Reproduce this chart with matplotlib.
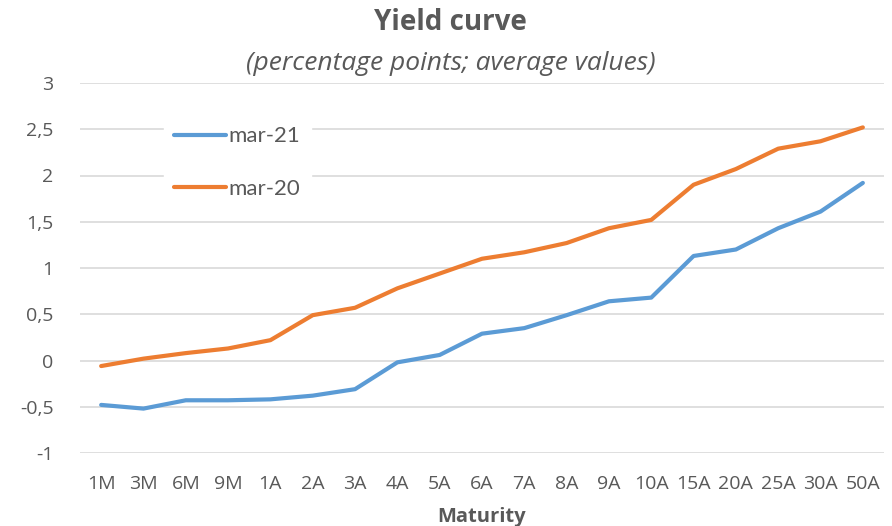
import matplotlib
matplotlib.use("Agg")
import matplotlib.pyplot as plt
from matplotlib.ticker import FuncFormatter

# --- データ ---
maturities = ["1M", "3M", "6M", "9M", "1A", "2A", "3A", "4A", "5A", "6A",
              "7A", "8A", "9A", "10A", "15A", "20A", "25A", "30A", "50A"]
mar21 = [-0.48, -0.52, -0.43, -0.43, -0.42, -0.38, -0.31, -0.02, 0.06, 0.29,
         0.35, 0.49, 0.64, 0.68, 1.13, 1.20, 1.43, 1.61, 1.92]
mar20 = [-0.06, 0.02, 0.08, 0.13, 0.22, 0.49, 0.57, 0.78, 0.94, 1.10,
         1.17, 1.27, 1.43, 1.52, 1.90, 2.07, 2.29, 2.37, 2.52]
y_ticks = [-1, -0.5, 0, 0.5, 1, 1.5, 2, 2.5, 3]

plt.rcParams["font.family"] = ["Open Sans", "DejaVu Sans"]
lato = ["Lato", "DejaVu Sans"]

fig = plt.figure(figsize=(8.92, 5.26), dpi=100)
ax = fig.add_axes([80 / 892, 1 - 453 / 526, 804 / 892, 370 / 526])

x = range(len(maturities))
ax.plot(x, mar21, color="#5b9bd5", linewidth=3, label="mar-21", solid_capstyle="round", zorder=3)
ax.plot(x, mar20, color="#ed7d31", linewidth=3, label="mar-20", solid_capstyle="round", zorder=3)

ax.set_xlim(-0.5, len(maturities) - 0.5)
ax.set_ylim(-1, 3)
ax.set_yticks(y_ticks)
ax.yaxis.set_major_formatter(FuncFormatter(lambda v, _: f"{v:g}".replace(".", ",")))
ax.set_xticks(list(x))
ax.set_xticklabels(maturities)
ax.grid(axis="y", color="#d9d9d9", linewidth=1.2)
ax.set_axisbelow(True)
for s in ax.spines.values():
    s.set_visible(False)
ax.tick_params(length=0, labelsize=14, labelcolor="#595959")
ax.tick_params(axis="x", pad=16)
ax.tick_params(axis="y", pad=19)

ax.set_xlabel("Maturity", fontsize=14.5, fontweight="bold", color="#595959", labelpad=10)

leg = ax.legend(loc="upper left", bbox_to_anchor=(0.105, 0.91), frameon=True, fancybox=False,
                edgecolor="white", facecolor="white", framealpha=1,
                prop={"family": lato, "size": 16},
                handlelength=2.3, handletextpad=0.15, labelspacing=1.45, borderpad=0.45,
                borderaxespad=0)
for t in leg.get_texts():
    t.set_color("#595959")

fig.text(0.505, 1 - 23 / 526, "Yield curve", ha="center", va="center",
         fontsize=20, fontweight="bold", color="#595959")
fig.text(0.505, 1 - 63 / 526, "(percentage points; average values)", ha="center", va="center",
         fontsize=19, style="italic", color="#595959")

fig.savefig("out.png", dpi=100)
